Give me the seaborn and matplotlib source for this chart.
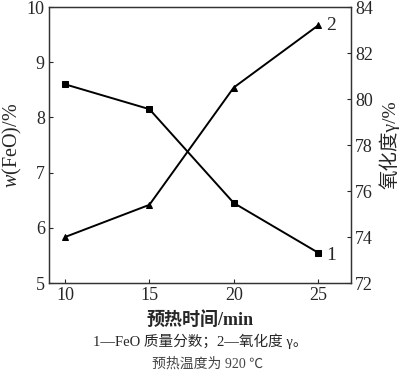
import matplotlib
matplotlib.use("Agg")
import matplotlib.pyplot as plt
import seaborn as sns
import pandas as pd

# data
time_min = [10, 15, 20, 25]
feo = [8.6, 8.15, 6.45, 5.55]
gamma = [74.0, 75.4, 80.5, 83.2]

sns.set_style("ticks")
plt.rcParams['font.family'] = ['Liberation Serif', 'Noto Sans CJK SC']
plt.rcParams['mathtext.fontset'] = 'custom'
plt.rcParams['mathtext.rm'] = 'Liberation Serif'
plt.rcParams['mathtext.it'] = 'Liberation Serif:italic'

df = pd.DataFrame({'t': time_min, 'feo': feo, 'gamma': gamma})

fig = plt.figure(figsize=(4.0, 3.76), dpi=100)
ax = fig.add_axes([0.1225, 0.2473, 0.755, 0.734])
ax2 = ax.twinx()

sns.lineplot(data=df, x='t', y='feo', ax=ax, color='black', marker='s',
             markersize=5, markeredgecolor='black', linewidth=1.4)
sns.lineplot(data=df, x='t', y='gamma', ax=ax2, color='black', marker='^',
             markersize=5, markeredgecolor='black', linewidth=1.4)

ax.set_xlim(9.05, 26.95)
ax.set_ylim(5, 10)
ax2.set_ylim(72, 84)
ax.set_xticks(time_min)
ax.set_yticks([5, 6, 7, 8, 9, 10])
ax2.set_yticks([72, 74, 76, 78, 80, 82, 84])

ax.tick_params(direction='in', length=3, labelsize=13, width=0.8, pad=3)
ax2.tick_params(direction='in', length=3, labelsize=13, width=0.8, pad=3)
for a in (ax, ax2):
    for s in a.spines.values():
        s.set_linewidth(0.9)
        s.set_color('#333333')

ax.set_xlabel('预热时间/min', fontsize=13, fontweight='bold', labelpad=5)
ax.set_ylabel(r'$w$(FeO)/%', fontsize=14.5, labelpad=2)
ax2.set_ylabel('氧化度γ/%', fontsize=14, labelpad=4, rotation=90)

ax.annotate('1', (time_min[-1], feo[-1]), xytext=(6, -2), textcoords='offset points',
            fontsize=14, va='center', ha='left')
ax2.annotate('2', (time_min[-1], gamma[-1]), xytext=(6, 0), textcoords='offset points',
             fontsize=14, va='center', ha='left')

fig.text(0.5, 1 - 341/376, '1—FeO 质量分数；2—氧化度 γ。', ha='center', va='center',
         fontsize=10.5)
fig.text(0.52, 1 - 364/376, '预热温度为 920 ℃', ha='center', va='center',
         fontsize=10, color='#444444')

fig.savefig('out.png', dpi=100)
